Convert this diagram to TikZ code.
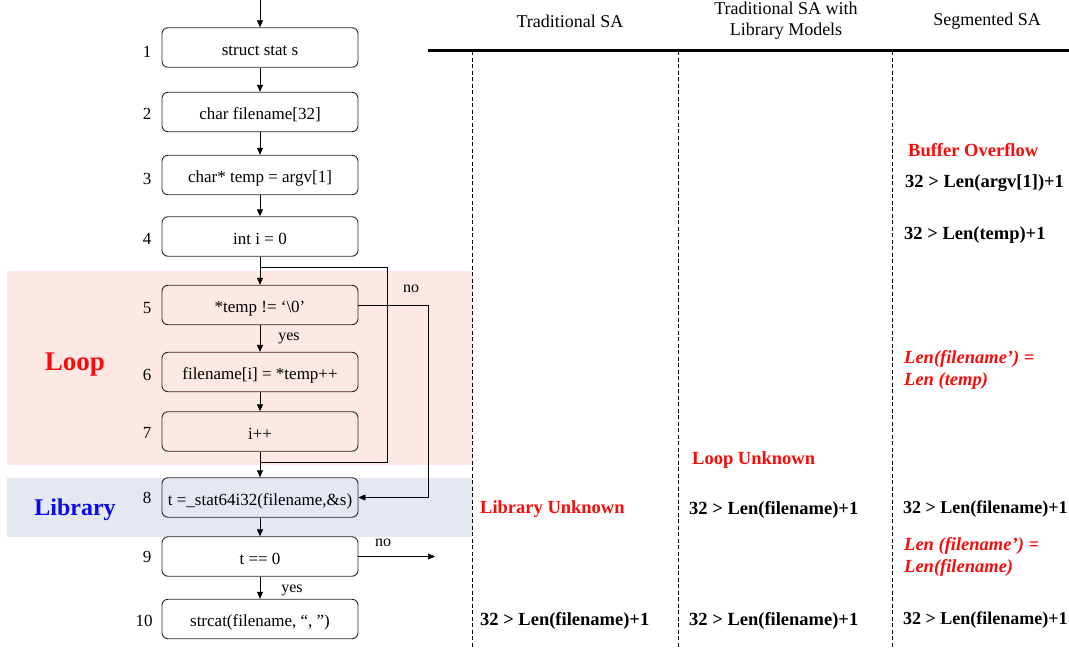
\documentclass[tikz,border=0pt]{standalone}
\usepackage{fontspec}
\setmainfont{Liberation Serif}
\usetikzlibrary{arrows.meta}
\definecolor{loopbg}{RGB}{253,232,228}
\definecolor{libbg}{RGB}{228,232,241}
\definecolor{redtxt}{RGB}{250,10,10}
\definecolor{bluetxt}{RGB}{10,10,235}
\definecolor{boxline}{RGB}{40,40,40}
\begin{document}
\begin{tikzpicture}[x=1pt,y=-1pt,
  stmt/.style={draw=boxline, line width=0.9pt, rounded corners=6pt, minimum width=196pt, minimum height=39.5pt, inner sep=0pt, text height=15pt, text depth=0pt, font=\fontsize{17}{19}\selectfont},
  lnum/.style={font=\fontsize{17}{19}\selectfont, inner sep=0pt},
  lbl/.style={font=\fontsize{16}{18}\selectfont, inner sep=0pt},
  arr/.style={-{Triangle[length=7pt,width=6pt]}, line width=0.7pt},
  conn/.style={line width=0.7pt},
  hdr/.style={font=\fontsize{18}{21}\selectfont, align=center, inner sep=0pt},
  res/.style={font=\bfseries\fontsize{18.5}{21}\selectfont, anchor=west, inner sep=0pt},
  resnarrow/.style={res, font=\bfseries\fontsize{18}{21}\selectfont},
  warn/.style={res, text=redtxt},
  rel/.style={font=\bfseries\itshape\fontsize{18.5}{22}\selectfont, anchor=west, inner sep=0pt, text=redtxt, align=left},
  sep/.style={dashed, dash pattern=on 4pt off 2.5pt, line width=0.6pt}
]
\useasboundingbox (0,0) rectangle (1069,648);
% backgrounds
\fill[loopbg] (7,271) rectangle (472,465);
\fill[libbg] (7,478) rectangle (472,537);
\node[font=\bfseries\fontsize{27}{30}\selectfont, text=redtxt, inner sep=0pt] (loop) at (75,365) {Loop};
\node[font=\bfseries\fontsize{24}{27}\selectfont, text=bluetxt, inner sep=0pt] (lib) at (75,510) {Library};
% statements
\node[stmt] (b1) at (260,47.5) {struct stat s};
\node[stmt] (b2) at (260,112) {char filename[32]};
\node[stmt] (b3) at (260,175) {char* temp = argv[1]};
\node[stmt] (b4) at (260,236.5) {int i = 0};
\node[stmt] (b5) at (260,305) {*temp != ‘\textbackslash 0’};
\node[stmt] (b6) at (260,372) {filename[i] = *temp++};
\node[stmt] (b7) at (260,431.5) {i++};
\node[stmt] (b8) at (260,497.5) {t =\_stat64i32(filename,\&s)};
\node[stmt] (b9) at (260,556.5) {t == 0};
\node[stmt] (b10) at (260,619) {strcat(filename, “, ”)};
% line numbers
\node[lnum] (n1) at (147,52) {1};
\node[lnum] (n2) at (147,114) {2};
\node[lnum] (n3) at (147,179) {3};
\node[lnum] (n4) at (147,239) {4};
\node[lnum] (n5) at (147,308) {5};
\node[lnum] (n6) at (147,375) {6};
\node[lnum] (n7) at (147,433) {7};
\node[lnum] (n8) at (147,498) {8};
\node[lnum] (n9) at (147,557) {9};
\node[lnum] (n10) at (144,621) {10};
% connectors
\coordinate (top) at (260,0);
\draw[arr] (top) -- (b1.north);
\draw[arr] (b1.south) -- (b2.north);
\draw[arr] (b2.south) -- (b3.north);
\draw[arr] (b3.south) -- (b4.north);
\draw[arr] (b4.south) -- (b5.north);
\draw[arr] (b5.south) -- (b6.north);
\draw[arr] (b6.south) -- (b7.north);
\draw[arr] (b7.south) -- (b8.north);
\draw[arr] (b8.south) -- (b9.north);
\draw[arr] (b9.south) -- (b10.north);
% loop back edge
\coordinate (j1) at (260,267);
\coordinate (j2) at (260,462);
\coordinate (r1) at (387,267);
\coordinate (r2) at (387,462);
\draw[conn] (j2) -- (r2) -- (r1) -- (j1);
% no edge from 5 to 8
\coordinate (q1) at (428,305);
\coordinate (q2) at (428,497.5);
\draw[arr] (b5.east) -- (q1) -- (q2) -- (b8.east);
% no edge out of 9
\coordinate (out9) at (435,556.5);
\draw[arr] (b9.east) -- (out9);
% labels
\node[lbl] (no1) at (411,289) {no};
\node[lbl] (yes1) at (289,338) {yes};
\node[lbl] (no2) at (383,543) {no};
\node[lbl] (yes2) at (292,590) {yes};
% table
\coordinate (h1) at (428,50.5);
\coordinate (h2) at (1069,50.5);
\draw[line width=2.5pt] (h1) -- (h2);
\coordinate (d1t) at (472,51); \coordinate (d1b) at (472,648);
\coordinate (d2t) at (678,51); \coordinate (d2b) at (678,648);
\coordinate (d3t) at (892,51); \coordinate (d3b) at (892,648);
\draw[sep] (d1t) -- (d1b);
\draw[sep] (d2t) -- (d2b);
\draw[sep] (d3t) -- (d3b);
\node[hdr] (c1) at (570,21) {Traditional SA};
\node[hdr] (c2) at (786,21) {Traditional SA with\\Library Models};
\node[hdr] (c3) at (987,21) {Segmented SA};
% column 1
\node[warn] (t1a) at (480,509) {Library Unknown};
\node[res] (t1b) at (480,621) {32 > Len(filename)+1};
% column 2
\node[warn] (t2a) at (692,460) {Loop Unknown};
\node[res] (t2b) at (689,510) {32 > Len(filename)+1};
\node[res] (t2c) at (689,621) {32 > Len(filename)+1};
% column 3
\node[warn] (t3a) at (908,150) {Buffer Overflow};
\node[res] (t3b) at (905,183) {32 > Len(argv[1])+1};
\node[res] (t3c) at (904,235) {32 > Len(temp)+1};
\node[rel] (t3d) at (904,370) {Len(filename’) =\\Len (temp)};
\node[resnarrow] (t3e) at (903,509) {32 > Len(filename)+1};
\node[rel] (t3f) at (904,557) {Len (filename’) =\\Len(filename)};
\node[resnarrow] (t3g) at (903,620) {32 > Len(filename)+1};
\end{tikzpicture}
\end{document}
